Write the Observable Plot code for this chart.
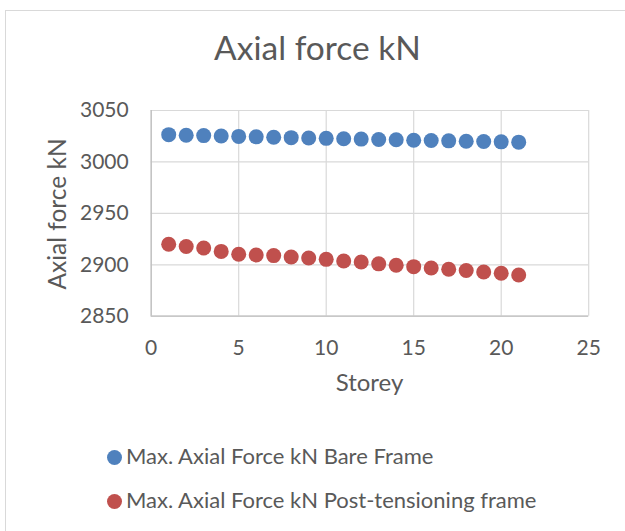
<!DOCTYPE html>
<html>
<head>
<meta charset="utf-8">
<script src="https://cdn.jsdelivr.net/npm/d3@7"></script>
<script src="https://cdn.jsdelivr.net/npm/@observablehq/plot@0.6"></script>
<style>
  html, body { margin: 0; padding: 0; background: #fff; }
  #chart { position: relative; width: 625px; height: 531px; overflow: hidden; font-family: Lato, "Open Sans", sans-serif; color: #595959; }
  .abs { position: absolute; white-space: nowrap; line-height: 1; }
  #borderTop { position: absolute; left: 5px; top: 10px; width: 620px; height: 1px; background: #d9d9d9; }
  #borderLeft { position: absolute; left: 5px; top: 10px; width: 1px; height: 521px; background: #d9d9d9; }
  #plot { position: absolute; left: 0; top: 90px; }
  .dot { display: inline-block; width: 15px; height: 15px; border-radius: 50%; position: absolute; }
</style>
</head>
<body>
<div id="chart">
  <div id="borderTop"></div>
  <div id="borderLeft"></div>
  <div id="title" class="abs"></div>
  <div id="ytitle" class="abs"></div>
  <div id="xtitle" class="abs"></div>
  <div id="plot"></div>
  <div id="legend"></div>
</div>
<script>
// ---- data ----
const storey = [1, 2, 3, 4, 5, 6, 7, 8, 9, 10, 11, 12, 13, 14, 15, 16, 17, 18, 19, 20, 21];
const bareFrame = [3026.5, 3026.0, 3025.6, 3025.2, 3024.8, 3024.4, 3024.0, 3023.6, 3023.3, 3022.9, 3022.5, 3022.2, 3021.8, 3021.5, 3021.1, 3020.8, 3020.5, 3020.1, 3019.8, 3019.5, 3019.2];
const postTensioning = [2920.0, 2917.7, 2916.3, 2913.0, 2910.2, 2909.5, 2908.9, 2907.6, 2906.6, 2905.3, 2903.7, 2902.7, 2900.9, 2899.5, 2898.2, 2896.9, 2895.6, 2894.4, 2893.0, 2891.7, 2890.1];
const seriesNames = ["Max. Axial Force kN Bare Frame", "Max. Axial Force kN Post-tensioning frame"];
const seriesColors = ["#4F81BD", "#C0504D"];
const xTicks = [0, 5, 10, 15, 20, 25];
const yTicks = [2850, 2900, 2950, 3000, 3050];
const chartTitle = "Axial force kN";
const xTitle = "Storey";
const yTitle = "Axial force kN";

// ---- table ----
const rows = [];
storey.forEach((s, i) => {
  rows.push({storey: s, value: bareFrame[i], series: seriesNames[0]});
  rows.push({storey: s, value: postTensioning[i], series: seriesNames[1]});
});

// ---- layout ----
const W = 625, H = 280;
const mTop = 20, mLeft = 150.7, mRight = 36.8, mBottom = 54.3;

const plot = Plot.plot({
  width: W,
  height: H,
  marginTop: mTop,
  marginLeft: mLeft,
  marginRight: mRight,
  marginBottom: mBottom,
  style: "font-family: Lato, 'Open Sans', sans-serif; font-size: 21px; color: #595959; background: transparent; overflow: visible;",
  x: {domain: [xTicks[0], xTicks[xTicks.length - 1]], ticks: xTicks, tickSize: 0, tickPadding: 24, tickFormat: d => String(d), label: null},
  y: {domain: [yTicks[0], yTicks[yTicks.length - 1]], ticks: yTicks, tickSize: 0, tickPadding: 22.5, tickFormat: d => String(d), label: null},
  color: {domain: seriesNames, range: seriesColors},
  marks: [
    Plot.gridX(xTicks, {stroke: "#d9d9d9", strokeOpacity: 1, strokeWidth: 1.2}),
    Plot.gridY(yTicks, {stroke: "#d9d9d9", strokeOpacity: 1, strokeWidth: 1.2}),
    Plot.ruleX([xTicks[0]], {stroke: "#bfbfbf", strokeWidth: 1.3}),
    Plot.ruleY([yTicks[0]], {stroke: "#bfbfbf", strokeWidth: 1.3}),
    Plot.dot(rows, {x: "storey", y: "value", fill: "series", r: 7.5, stroke: null})
  ]
});
document.getElementById("plot").appendChild(plot);

// ---- titles ----
const t = document.getElementById("title");
t.textContent = chartTitle;
Object.assign(t.style, {fontSize: "33.5px", left: "317.5px", top: (61 - 0.887 * 33.5) + "px", transform: "translateX(-50%)"});

const xt = document.getElementById("xtitle");
xt.textContent = xTitle;
Object.assign(xt.style, {fontSize: "24px", left: "369.5px", top: (391.7 - 0.887 * 24) + "px", transform: "translateX(-50%)"});

const yt = document.getElementById("ytitle");
yt.textContent = yTitle;
Object.assign(yt.style, {fontSize: "24.5px", left: "56.5px", top: "213.5px", transform: "translate(-50%, -50%) rotate(-90deg)"});

// ---- legend ----
const legend = document.getElementById("legend");
const legendRows = [457.3, 501.7];
const legendFont = 22;
seriesNames.forEach((name, i) => {
  const dot = document.createElement("span");
  dot.className = "dot";
  dot.style.background = seriesColors[i];
  dot.style.left = (114 - 7.5) + "px";
  dot.style.top = (legendRows[i] - 7.5) + "px";
  legend.appendChild(dot);
  const lab = document.createElement("div");
  lab.className = "abs";
  lab.textContent = name;
  Object.assign(lab.style, {fontSize: legendFont + "px", left: "126px", top: (legendRows[i] + 7 - 0.887 * legendFont) + "px"});
  legend.appendChild(lab);
});
</script>
</body>
</html>
